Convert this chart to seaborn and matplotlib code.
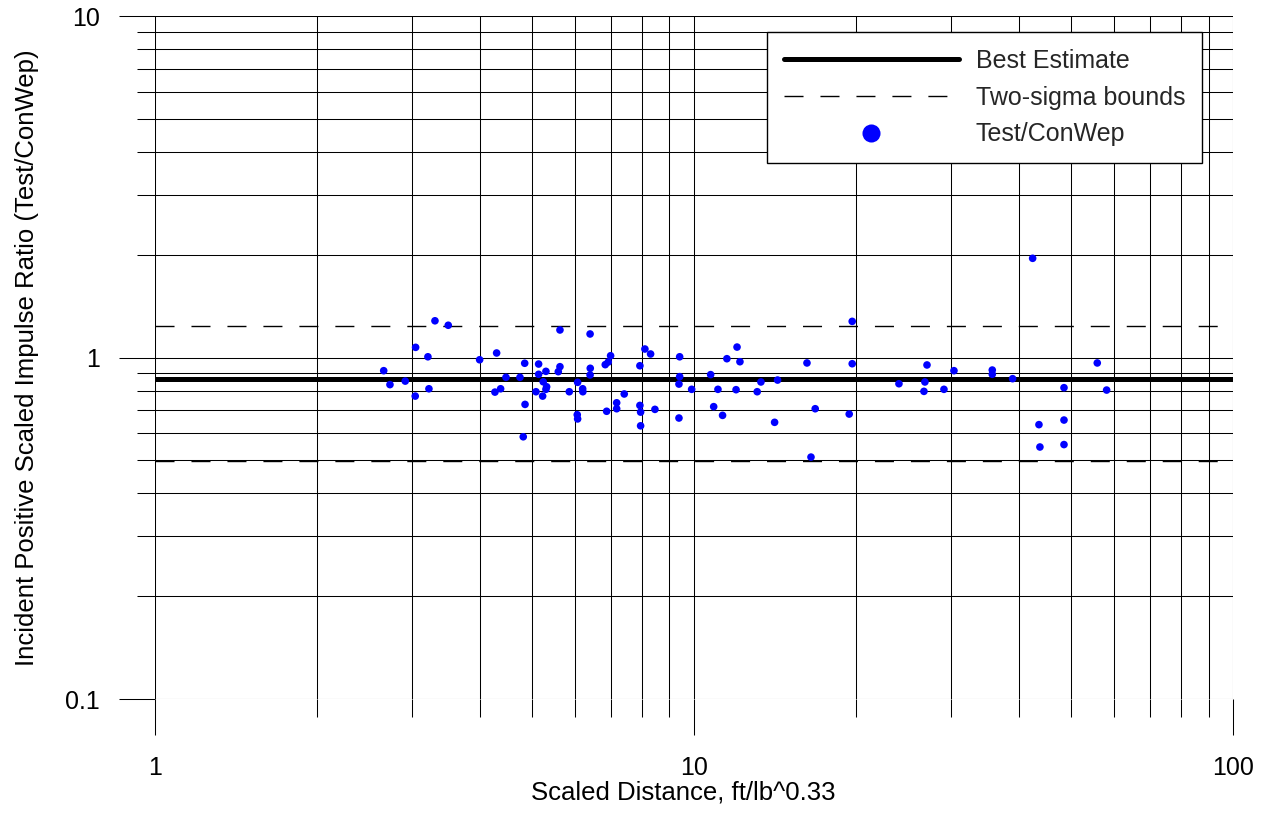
import matplotlib
matplotlib.use("Agg")
import matplotlib.pyplot as plt
from matplotlib.lines import Line2D
from matplotlib.ticker import LogLocator, NullFormatter
import numpy as np
import pandas as pd
import seaborn as sns

# Scaled distance (ft/lb^0.33) of each test record
scaled_distance = [
    2.656, 2.728, 2.912, 3.044, 3.039, 3.208, 3.222, 3.306, 3.499, 4.001,
    4.271, 4.302, 4.376, 4.477, 4.753, 4.850, 4.857, 4.820, 5.147, 5.147,
    5.310, 5.249, 5.326, 5.310, 5.089, 5.236, 5.598, 5.638, 5.638, 5.867,
    6.080, 6.212, 6.217, 6.070, 6.080, 6.417, 6.412, 6.412, 6.841, 6.929,
    6.999, 6.882, 7.183, 7.183, 7.419, 7.932, 8.104, 8.303, 7.932, 7.956,
    7.956, 8.458, 9.400, 9.400, 9.372, 9.372, 9.894, 10.73, 10.87, 11.07,
    11.29, 11.50, 12.01, 12.16, 11.96, 13.09, 13.30, 14.28, 14.10, 16.19,
    16.77, 16.47, 19.64, 19.64, 19.39, 23.98, 27.03, 26.79, 26.68, 29.06,
    30.33, 35.72, 35.72, 38.96, 42.44, 43.60, 43.78, 48.52, 48.52, 48.52,
    55.93, 58.21,
]

# Measured / ConWep incident positive scaled impulse
impulse_ratio = [
    0.915, 0.833, 0.853, 1.071, 0.771, 1.005, 0.810, 1.281, 1.243, 0.985,
    0.792, 1.031, 0.810, 0.875, 0.875, 0.962, 0.729, 0.586, 0.957, 0.893,
    0.911, 0.849, 0.821, 0.807, 0.794, 0.771, 0.909, 0.940, 1.204, 0.794,
    0.846, 0.810, 0.794, 0.680, 0.661, 0.930, 0.889, 1.172, 0.953, 0.970,
    1.012, 0.696, 0.737, 0.708, 0.782, 0.946, 1.059, 1.024, 0.724, 0.692,
    0.631, 0.705, 1.005, 0.879, 0.836, 0.665, 0.807, 0.891, 0.718, 0.807,
    0.677, 0.992, 1.073, 0.972, 0.805, 0.794, 0.848, 0.859, 0.646, 0.964,
    0.708, 0.511, 1.276, 0.959, 0.683, 0.838, 0.951, 0.848, 0.796, 0.807,
    0.915, 0.919, 0.893, 0.867, 1.952, 0.636, 0.547, 0.816, 0.656, 0.556,
    0.964, 0.803,
]

best_estimate = 0.865
two_sigma = 0.368
x_extent = [1, 100]

x_ticks = [1, 10, 100]
y_ticks = [0.1, 1, 10]

sns.set_style("white")
plt.rcParams["font.family"] = ["Liberation Sans", "DejaVu Sans"]

df = pd.DataFrame({"distance": scaled_distance, "ratio": impulse_ratio})
bounds = pd.DataFrame({
    "distance": x_extent * 3,
    "ratio": [best_estimate] * 2
    + [best_estimate + two_sigma] * 2
    + [best_estimate - two_sigma] * 2,
    "curve": ["best"] * 2 + ["upper"] * 2 + ["lower"] * 2,
})

fig = plt.figure(figsize=(12.66, 8.13), dpi=100)
ax = fig.add_axes([0.1224, 0.1402, 0.8518, 0.8401])

dash = (0, (13.7, 12.2))

sns.lineplot(data=bounds[bounds.curve == "best"], x="distance", y="ratio",
             ax=ax, color="black", lw=3.6, zorder=3, legend=False)
for name in ["upper", "lower"]:
    sns.lineplot(data=bounds[bounds.curve == name], x="distance", y="ratio",
                 ax=ax, color="black", lw=1.0, linestyle=dash, zorder=3,
                 legend=False)

sns.scatterplot(data=df, x="distance", y="ratio", ax=ax, color="#0000FF",
                s=30, edgecolor="none", linewidth=0, zorder=4, legend=False)

ax.set_xscale("log")
ax.set_yscale("log")
ax.set_xlim(1, 100)
ax.set_ylim(0.1, 10)

for axis in (ax.xaxis, ax.yaxis):
    axis.set_minor_locator(LogLocator(base=10, subs=np.arange(2, 10), numticks=20))
    axis.set_minor_formatter(NullFormatter())
ax.set_xticks(x_ticks)
ax.set_yticks(y_ticks)
ax.set_xticklabels([f"{v:g}" for v in x_ticks])
ax.set_yticklabels([f"{v:g}" for v in y_ticks])

ax.grid(True, which="both", color="black", lw=0.75)
ax.set_axisbelow(True)
for s in ax.spines.values():
    s.set_visible(False)

ax.tick_params(which="both", bottom=True, left=True, top=False, right=False)
ax.tick_params(which="major", direction="out", length=26, width=0.75,
               color="black", labelsize=18, labelcolor="black")
ax.tick_params(axis="y", which="major", pad=13.5)
ax.tick_params(axis="x", which="major", pad=15)
ax.tick_params(which="minor", direction="out", length=13, width=0.75,
               color="black")

ax.set_xlabel("Scaled Distance, ft/lb^0.33", fontsize=18.5, color="black")
ax.set_ylabel("Incident Positive Scaled Impulse Ratio (Test/ConWep)",
              fontsize=18.5, color="black")
ax.xaxis.set_label_coords(0.49, -0.120)
ax.yaxis.set_label_coords(-0.1076, 0.5)

handles = [
    Line2D([], [], color="black", lw=3.6, solid_capstyle="round"),
    Line2D([], [], color="black", lw=1.0, linestyle=dash),
    Line2D([], [], marker="o", ls="none", color="#0000FF",
           markersize=13, markeredgewidth=0),
]
labels = ["Best Estimate", "Two-sigma bounds", "Test/ConWep"]
leg = ax.legend(handles, labels, loc="upper right",
                bbox_to_anchor=(1202 / 1266, 1 - 32 / 813),
                bbox_transform=fig.transFigure, borderaxespad=0,
                frameon=True, fancybox=False, shadow=False,
                edgecolor="black", facecolor="white", framealpha=1,
                fontsize=18, handlelength=7.0, handletextpad=0.68,
                borderpad=0.68, labelspacing=0.51)
leg.get_frame().set_linewidth(1.0)

fig.savefig("out.png", dpi=100)
